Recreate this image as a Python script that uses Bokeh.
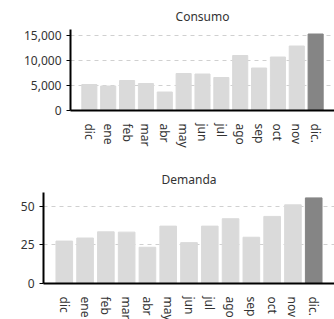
import math
from bokeh.plotting import figure
from bokeh.models import FactorRange, Range1d, FixedTicker, NumeralTickFormatter, ColumnDataSource
from bokeh.embed import file_html
from bokeh.resources import INLINE

months = ["dic", "ene", "feb", "mar", "abr", "may", "jun", "jul", "ago", "sep", "oct", "nov", "dic."]
consumo = [5200, 4900, 6000, 5400, 3700, 7400, 7300, 6600, 11000, 8500, 10700, 12900, 15300]
demanda = [27.5, 29.5, 33.5, 33.3, 23.5, 37.2, 26.5, 37.2, 42, 30, 43.5, 51, 55.5]
consumo_ticks = [0, 5000, 10000, 15000]
demanda_ticks = [0, 25, 50]

FONT = "Noto Sans"
LIGHT = "#dadada"
DARK = "#858585"


def make(title, vals, ticks, ymax, fw, fh, left, top, bottom, fmt):
    colors = [LIGHT] * (len(vals) - 1) + [DARK]
    src = ColumnDataSource(dict(x=months, top=vals, color=colors))
    p = figure(x_range=FactorRange(factors=months, range_padding=1 / 13),
               y_range=Range1d(0, ymax), frame_width=fw, frame_height=fh,
               output_backend="svg", toolbar_location=None, title=title,
               min_border_left=left, min_border_top=top, min_border_bottom=bottom,
               min_border_right=0)
    p.vbar(x="x", top="top", width=0.8, color="color", source=src)
    p.title.align = "center"
    p.title.text_font = FONT
    p.title.text_font_style = "normal"
    p.title.text_font_size = "12px"
    p.title.text_color = "#333333"
    p.outline_line_color = None
    p.xgrid.grid_line_color = None
    p.ygrid.grid_line_color = "#d0d0d0"
    p.ygrid.grid_line_dash = "4 4"
    p.yaxis.ticker = FixedTicker(ticks=ticks)
    p.yaxis.formatter = NumeralTickFormatter(format=fmt)
    for ax in (p.xaxis, p.yaxis):
        ax.axis_line_color = "black"
        ax.axis_line_width = 2
        ax.major_label_text_font = FONT
        ax.major_label_text_font_size = "12px"
        ax.major_label_text_color = "#333333"
        ax.minor_tick_line_color = None
    p.yaxis.major_tick_in = 0
    p.yaxis.major_tick_out = 4
    p.yaxis.major_tick_line_color = "black"
    p.xaxis.major_tick_line_color = None
    p.xaxis.major_label_orientation = -math.pi / 2
    p.xaxis.major_label_standoff = 7
    return p


p1 = make("Consumo", consumo, consumo_ticks, 16200, 264, 81, 70, 29, 40, "0,0")
p2 = make("Demanda", demanda, demanda_ticks, 59, 291, 91, 43, 42, 32, "0")

open("out.html", "w").write(file_html([p1, p2], INLINE))
